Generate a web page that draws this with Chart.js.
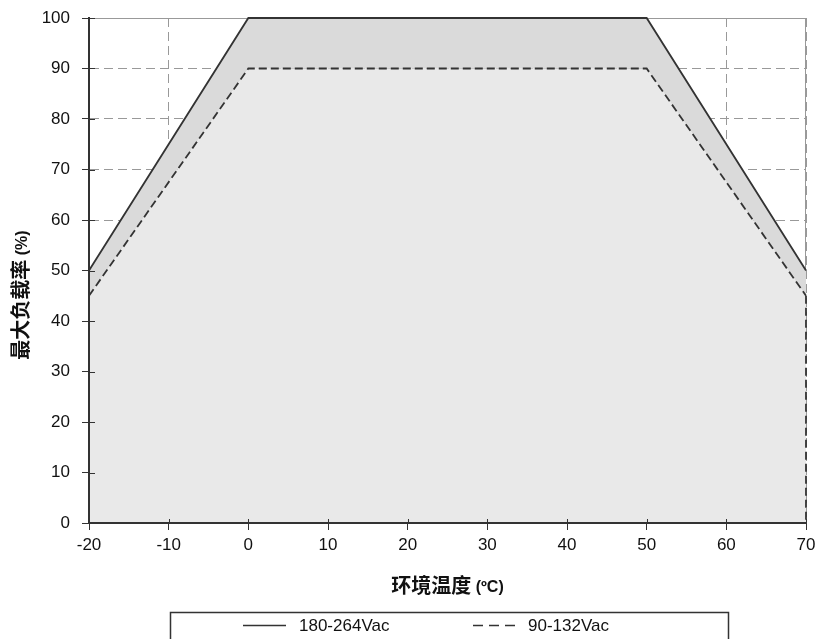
<!DOCTYPE html>
<html>
<head>
<meta charset="utf-8">
<script src="https://cdn.jsdelivr.net/npm/chart.js@4"></script>
<style>
  html, body { margin: 0; padding: 0; background: #fff; }
  #wrap { width: 816px; height: 639px; }
</style>
</head>
<body>
<div id="wrap"><canvas id="derating"></canvas></div>
<script>
// Derating curve values.
var temps = [-20, 0, 50, 70];
var load180 = [50, 100, 100, 50];
var load90 = [45, 90, 90, 45];
// Dashed drop to zero at the right edge.
var dropTemps = [70, 70];
var dropLoad = [45, 0];
var seriesLabels = ['180-264Vac', '90-132Vac'];
var xTitle = ['环境温度', ' (ºC)'];
var yTitle = ['最大负载率', ' (%)'];

var FONT = "'Liberation Sans', Arial, 'Noto Sans CJK SC', sans-serif";
var INK = '#333333';

function points(xs, ys) {
  return xs.map(function (x, i) { return { x: x, y: ys[i] }; });
}

// Draws a two-part title (bold CJK + smaller suffix) centred on a point.
function drawTitle(ctx, parts, cx, cy, rotate) {
  ctx.save();
  ctx.translate(cx, cy);
  if (rotate) ctx.rotate(-Math.PI / 2);
  ctx.fillStyle = '#111';
  ctx.textBaseline = 'middle';
  ctx.font = 'bold 20px ' + FONT;
  var w1 = ctx.measureText(parts[0]).width;
  ctx.font = 'bold 16px ' + FONT;
  var w2 = ctx.measureText(parts[1]).width;
  var x = -(w1 + w2) / 2;
  ctx.textAlign = 'left';
  ctx.font = 'bold 20px ' + FONT;
  ctx.fillText(parts[0], x, 0);
  ctx.font = 'bold 16px ' + FONT;
  ctx.fillText(parts[1], x + w1, 1);
  ctx.restore();
}

var extras = {
  id: 'extras',
  beforeDraw: function (chart) {
    // Light grey frame on top and right, under grid and fills.
    var a = chart.chartArea;
    var ctx = chart.ctx;
    ctx.save();
    ctx.strokeStyle = '#999';
    ctx.lineWidth = 1;
    ctx.beginPath();
    ctx.moveTo(a.left, a.top + 0.5);
    ctx.lineTo(a.right - 0.5, a.top + 0.5);
    ctx.lineTo(a.right - 0.5, a.bottom);
    ctx.stroke();
    ctx.restore();
  },
  afterDatasetsDraw: function (chart) {
    var a = chart.chartArea;
    var ctx = chart.ctx;
    var xs = chart.scales.x;
    var ys = chart.scales.y;
    ctx.save();
    ctx.strokeStyle = INK;
    ctx.lineWidth = 1;
    ctx.beginPath();
    // Tick marks also poke inside the plot.
    xs.ticks.forEach(function (t) {
      var px = Math.round(xs.getPixelForValue(t.value)) + 0.5;
      ctx.moveTo(px, a.bottom - 4);
      ctx.lineTo(px, a.bottom);
    });
    ys.ticks.forEach(function (t) {
      var py = Math.round(ys.getPixelForValue(t.value)) + 0.5;
      ctx.moveTo(a.left, py);
      ctx.lineTo(a.left + 6, py);
    });
    ctx.stroke();
    // Axis lines sit on top of the fills.
    ctx.lineWidth = 2;
    ctx.beginPath();
    ctx.moveTo(a.left, a.top);
    ctx.lineTo(a.left, a.bottom);
    ctx.lineTo(a.right, a.bottom);
    ctx.stroke();
    ctx.restore();
  },
  afterDraw: function (chart) {
    var a = chart.chartArea;
    var ctx = chart.ctx;

    drawTitle(ctx, xTitle, (a.left + a.right) / 2, 587, false);
    drawTitle(ctx, yTitle, 22, 295, true);

    // Legend box.
    ctx.save();
    ctx.strokeStyle = INK;
    ctx.lineWidth = 1.5;
    ctx.strokeRect(170.5, 612.5, 558, 40);

    ctx.lineWidth = 1.5;
    ctx.beginPath();
    ctx.moveTo(243, 625.5);
    ctx.lineTo(286, 625.5);
    ctx.stroke();
    ctx.setLineDash([10, 6]);
    ctx.beginPath();
    ctx.moveTo(473, 625.5);
    ctx.lineTo(515, 625.5);
    ctx.stroke();
    ctx.setLineDash([]);

    ctx.fillStyle = '#111';
    ctx.font = '17px ' + FONT;
    ctx.textAlign = 'left';
    ctx.textBaseline = 'middle';
    ctx.fillText(seriesLabels[0], 299, 626);
    ctx.fillText(seriesLabels[1], 528, 626);
    ctx.restore();
  }
};

new Chart(document.getElementById('derating'), {
  type: 'line',
  plugins: [extras],
  data: {
    datasets: [
      {
        label: seriesLabels[0],
        data: points(temps, load180),
        borderColor: INK,
        borderWidth: 1.8,
        backgroundColor: '#dadada',
        fill: { target: 1 },
        pointRadius: 0,
        tension: 0,
        clip: false
      },
      {
        label: seriesLabels[1],
        data: points(temps, load90),
        borderColor: INK,
        borderWidth: 1.8,
        borderDash: [8, 4],
        backgroundColor: '#e9e9e9',
        fill: 'origin',
        pointRadius: 0,
        tension: 0,
        clip: false
      },
      {
        label: 'drop',
        data: points(dropTemps, dropLoad),
        borderColor: INK,
        borderWidth: 1.8,
        borderDash: [8, 4],
        fill: false,
        pointRadius: 0,
        clip: false
      }
    ]
  },
  options: {
    responsive: true,
    maintainAspectRatio: false,
    animation: false,
    layout: {
      padding: { left: 0, right: 10, top: 18, bottom: 0 }
    },
    plugins: {
      // All fills first, so no fill covers a line.
      filler: { drawTime: 'beforeDatasetsDraw' },
      legend: { display: false },
      tooltip: { enabled: false }
    },
    scales: {
      x: {
        type: 'linear',
        min: -20,
        max: 70,
        afterFit: function (scale) {
          scale.height = 116;
          scale.paddingLeft = 0;
          scale.paddingRight = 0;
        },
        ticks: {
          stepSize: 10,
          padding: 5,
          color: '#111',
          font: { family: FONT, size: 17 }
        },
        grid: {
          color: '#999',
          lineWidth: 1,
          tickLength: 7,
          tickColor: INK
        },
        border: { color: INK, width: 2, dash: [9, 5] }
      },
      y: {
        min: 0,
        max: 100,
        afterFit: function (scale) {
          scale.width = 89;
          scale.paddingTop = 0;
          scale.paddingBottom = 0;
        },
        ticks: {
          stepSize: 10,
          padding: 12,
          color: '#111',
          font: { family: FONT, size: 17 }
        },
        grid: {
          color: '#999',
          lineWidth: 1,
          tickLength: 7,
          tickColor: INK
        },
        border: { color: INK, width: 2, dash: [9, 5] }
      }
    }
  }
});
</script>
</body>
</html>
